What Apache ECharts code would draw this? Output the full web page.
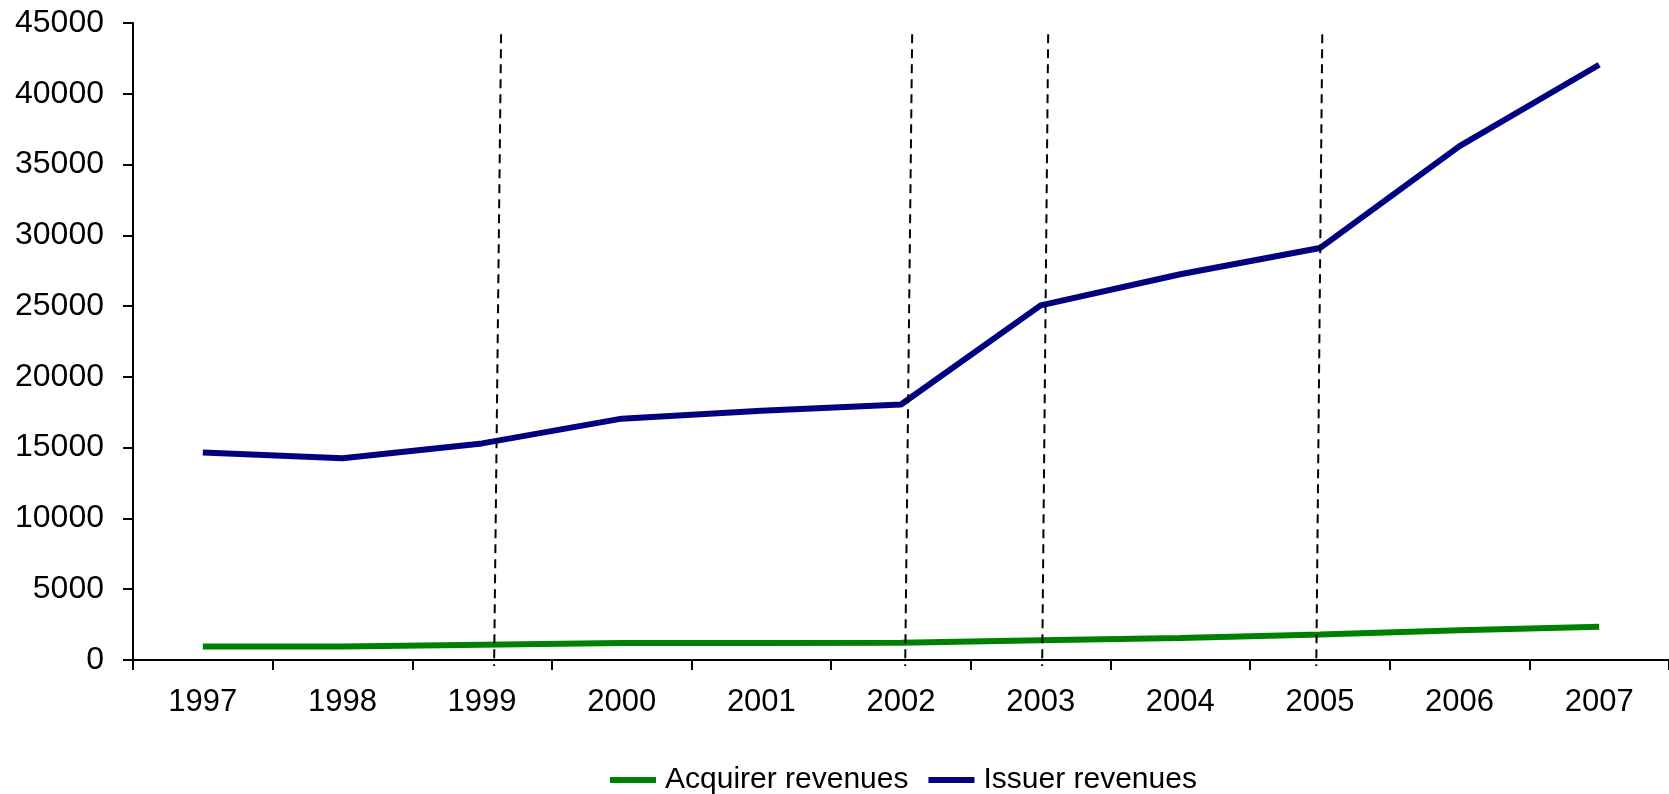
<!DOCTYPE html>
<html>
<head>
<meta charset="utf-8">
<script src="https://cdn.jsdelivr.net/npm/echarts@6/dist/echarts.min.js"></script>
<style>
  html, body { margin: 0; padding: 0; background: #fff; }
  #chart { width: 1669px; height: 794px; }
</style>
</head>
<body>
<div id="chart"></div>
<script>
// categories and series values
var years = ['1997', '1998', '1999', '2000', '2001', '2002', '2003', '2004', '2005', '2006', '2007'];
var acquirer = [950, 950, 1080, 1200, 1200, 1220, 1400, 1550, 1800, 2100, 2350];
var issuer = [14650, 14250, 15300, 17050, 17600, 18050, 25050, 27250, 29100, 36300, 42050];

// hand drawn dashed markers (x as category index, slightly slanted)
var markerTopX = [2.136, 5.080, 6.054, 8.017];
var markerBottomX = [2.086, 5.030, 6.011, 7.974];
var markerTopY = 44200;
var markerBottomY = -420;

var labelFont = 'Liberation Sans, Arial, sans-serif';

var series = [
  {
    name: 'Acquirer revenues',
    type: 'line',
    data: acquirer,
    symbol: 'none',
    lineStyle: { color: '#008000', width: 6 },
    itemStyle: { color: '#008000' },
    z: 2
  },
  {
    name: 'Issuer revenues',
    type: 'line',
    data: issuer,
    symbol: 'none',
    lineStyle: { color: '#000080', width: 6 },
    itemStyle: { color: '#000080' },
    z: 2
  }
];

// 虚线标记
for (var i = 0; i < markerTopX.length; i++) {
  series.push({
    type: 'line',
    xAxisIndex: 1,
    data: [[markerTopX[i], markerTopY], [markerBottomX[i], markerBottomY]],
    symbol: 'none',
    clip: false,
    silent: true,
    lineStyle: { color: '#000', width: 2, type: [9, 6] },
    z: 5
  });
}

var option = {
  animation: false,
  backgroundColor: '#fff',
  grid: { left: 133, right: 0, top: 23, bottom: 134, containLabel: false },
  legend: {
    data: ['Acquirer revenues', 'Issuer revenues'],
    icon: 'rect',
    left: 605,
    top: 760,
    itemWidth: 46,
    itemHeight: 6,
    itemGap: 20,
    textStyle: { fontFamily: labelFont, fontSize: 30, color: '#000', padding: [0, 0, 0, 4] }
  },
  xAxis: [
    {
      type: 'category',
      data: years,
      boundaryGap: true,
      axisLine: { lineStyle: { color: '#000', width: 2 } },
      axisTick: { show: true, length: 10, lineStyle: { color: '#000', width: 2 } },
      axisLabel: { color: '#000', fontSize: 31, fontFamily: labelFont, margin: 27 },
      splitLine: { show: false }
    },
    {
      type: 'value',
      min: -0.5,
      max: 10.5,
      show: false,
      splitLine: { show: false }
    }
  ],
  yAxis: {
    type: 'value',
    min: 0,
    max: 45000,
    interval: 5000,
    axisLine: { show: true, onZero: false, lineStyle: { color: '#000', width: 2 } },
    axisTick: { show: true, length: 10, lineStyle: { color: '#000', width: 2 } },
    axisLabel: {
      color: '#000', fontSize: 32, fontFamily: labelFont, margin: 29,
      formatter: function (v) { return String(v); }
    },
    splitLine: { show: false }
  },
  series: series
};

var myChart = echarts.init(document.getElementById('chart'));
myChart.setOption(option);
</script>
</body>
</html>
